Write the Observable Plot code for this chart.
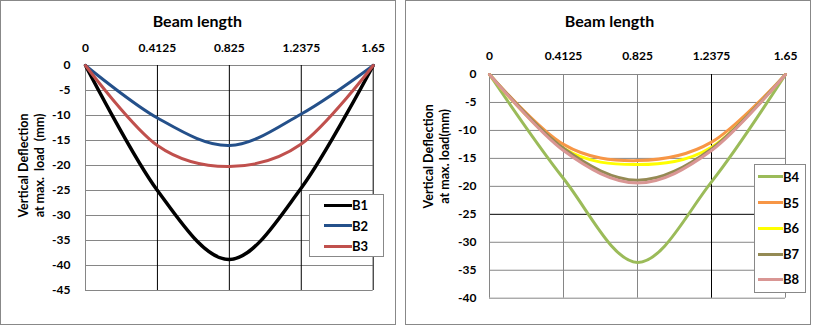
<!DOCTYPE html>
<html>
<head>
<meta charset="utf-8">
<script src="https://cdn.jsdelivr.net/npm/d3@7"></script>
<script src="https://cdn.jsdelivr.net/npm/@observablehq/plot@0.6"></script>
<style>
  body { margin: 0; background: #fff; font-family: Lato, "DejaVu Sans", sans-serif; }
  #root { position: relative; width: 813px; height: 326px; overflow: hidden; }
  .panel { position: absolute; border: 1px solid #888; box-sizing: border-box; }
  .chart { position: absolute; top: 0; }
  .legend { position: absolute; border: 1px solid #888; background: #fff; box-sizing: border-box; }
  .entry { position: absolute; display: flex; align-items: center; font: bold 13px Lato, sans-serif; color: #000; }
  .swatch { height: 3px; }
</style>
</head>
<body>
<div id="root"></div>
<script>
// ---- data ----
const positions = [0, 0.4125, 0.825, 1.2375, 1.65];
const leftYTicks = [0, -5, -10, -15, -20, -25, -30, -35, -40, -45];
const rightYTicks = [0, -5, -10, -15, -20, -25, -30, -35, -40];
const xTitle = "Beam length";
const leftYLabel = "Vertical Deflection\nat max.\u00a0 load\u00a0 (mm)";
const rightYLabel = "Vertical Deflection\nat max. load(mm)";

const B1 = [0, -25, -38.8, -24.5, 0];
const B2 = [0, -10.5, -16, -9.7, 0];
const B3 = [0, -16, -20.2, -15.7, 0];
const B4 = [0, -18.6, -33.6, -19.2, 0];
const B5 = [0, -12.5, -15.4, -12.1, 0];
const B6 = [0, -13.2, -16.1, -13, 0];
const B7 = [0, -13.2, -18.9, -13.3, 0];
const B8 = [0, -13.6, -19.4, -13.6, 0];

const leftNames = ["B1", "B2", "B3"];
const leftColors = ["#000000", "#24508a", "#c0504d"];
const rightNames = ["B4", "B5", "B6", "B7", "B8"];
const rightColors = ["#9bbb59", "#f79646", "#ffff00", "#948a54", "#d99694"];

const GRAY = "#868686";
const fmt = d => String(d);
const toRows = vals => positions.map((x, i) => ({x, y: vals[i]}));

const root = document.getElementById("root");

function addBox(cls, l, t, w, h) {
  const d = document.createElement("div");
  d.className = cls;
  Object.assign(d.style, {left: l + "px", top: t + "px", width: w + "px", height: h + "px"});
  root.appendChild(d);
  return d;
}

function makeChart(cfg) {
  const marks = [
    Plot.ruleY(cfg.yTicks, {y: d => d, stroke: cfg.hStroke, strokeWidth: 1}),
    Plot.ruleX(positions, {x: d => d, stroke: cfg.vStroke, strokeWidth: 1}),
    ...cfg.series.map((s, i) => Plot.line(toRows(s), {x: "x", y: "y", stroke: cfg.colors[i], strokeWidth: cfg.widths[i], curve: "cardinal"})),
    Plot.axisX(positions, {anchor: "top", tickSize: 0, tickPadding: cfg.xPad, tickFormat: fmt, label: null, fontSize: 12, fontWeight: "bold"}),
    Plot.axisY(cfg.yTicks, {anchor: "left", tickSize: 0, tickPadding: cfg.yPad, tickFormat: fmt, label: null, fontSize: 12, fontWeight: "bold"}),
    Plot.text([xTitle], {text: d => d, frameAnchor: "top", dx: cfg.titleDx, dy: cfg.titleDy, lineAnchor: "middle", fontSize: 16, fontWeight: "bold"}),
    Plot.text([cfg.yLabel], {text: d => d, frameAnchor: "left", rotate: -90, dx: cfg.ylDx, dy: cfg.ylDy, lineAnchor: "middle", textAnchor: "middle", lineHeight: 1.3, fontSize: 12.5, fontWeight: "bold"})
  ];
  const svg = Plot.plot({
    width: cfg.width, height: 326,
    marginLeft: cfg.ml, marginRight: cfg.mr, marginTop: cfg.mt, marginBottom: cfg.mb,
    x: {domain: [0, 1.65]},
    y: {domain: cfg.yDomain},
    style: {background: "transparent", fontFamily: "Lato, sans-serif", color: "#000", overflow: "visible"},
    marks
  });
  svg.classList.add("chart");
  svg.style.left = cfg.left + "px";
  root.appendChild(svg);
}

function makeLegend(l, t, w, h, names, colors, lineL, lineW, ys) {
  const box = addBox("legend", l, t, w, h);
  names.forEach((n, i) => {
    const e = document.createElement("div");
    e.className = "entry";
    e.style.left = lineL + "px";
    e.style.top = (ys[i] - 9) + "px";
    e.style.height = "18px";
    const sw = document.createElement("div");
    sw.className = "swatch";
    sw.style.width = lineW + "px";
    sw.style.background = colors[i];
    const tx = document.createElement("span");
    tx.textContent = n;
    e.appendChild(sw); e.appendChild(tx);
    box.appendChild(e);
  });
}

// panel frames
addBox("panel", 0, 0, 396, 325);
addBox("panel", 405, 0, 406, 325);

makeChart({
  left: 0, width: 400, ml: 85, mr: 27.3, mt: 65, mb: 36,
  yDomain: [-45, 0], yTicks: leftYTicks,
  hStroke: GRAY, vStroke: d => d === 0 ? GRAY : "#000",
  series: [B1, B2, B3], colors: leftColors, widths: [3.5, 3, 3],
  xPad: 14, yPad: 15, titleDx: -32, titleDy: -43.5,
  yLabel: leftYLabel, ylDx: -55, ylDy: -12.5
});

makeChart({
  left: 405, width: 408, ml: 84, mr: 28, mt: 74, mb: 28.3,
  yDomain: [-40, 0], yTicks: rightYTicks,
  hStroke: d => d === -25 ? "#000" : GRAY, vStroke: d => d === 1.2375 ? "#000" : GRAY,
  series: [B4, B5, B6, B7, B8], colors: rightColors, widths: [3, 3, 3, 3, 3],
  xPad: 15, yPad: 13, titleDx: -28, titleDy: -53,
  yLabel: rightYLabel, ylDx: -54, ylDy: -30
});

makeLegend(309, 194, 75, 63, leftNames, leftColors, 14, 28, [10, 30.7, 51]);
makeLegend(754, 164, 52, 129, rightNames, rightColors, 3, 25, [11.7, 37.7, 63.3, 89, 114.3]);
</script>
</body>
</html>
